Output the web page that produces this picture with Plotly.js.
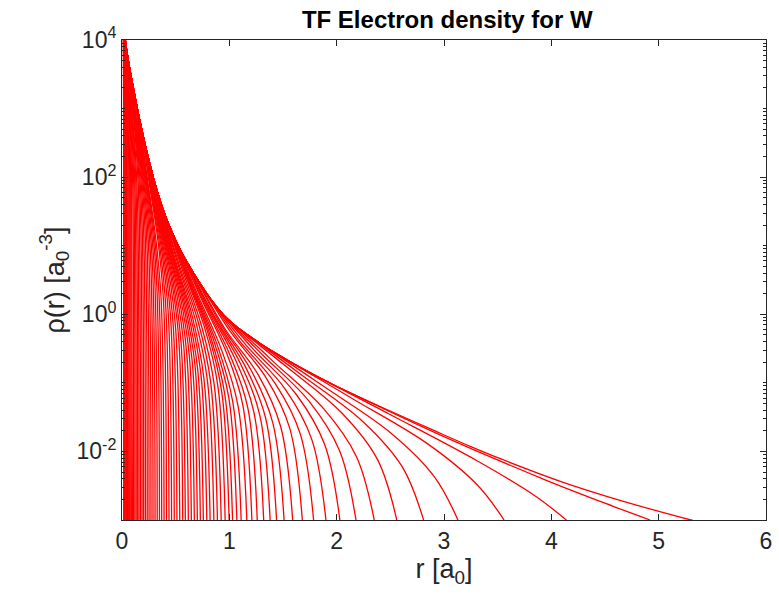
<!DOCTYPE html>
<html>
<head>
<meta charset="utf-8">
<script src="https://cdn.plot.ly/plotly-3.0.1.min.js"></script>
<style>html,body{margin:0;padding:0;background:#fff;}#chart{width:779px;height:600px;}</style>
</head>
<body>
<div id="chart"></div>
<script>
// Neutral-atom envelope: radius [a0] and log10 of density
const envR   = [0.004, 0.01, 0.02, 0.035, 0.06, 0.09, 0.121, 0.15, 0.18, 0.23, 0.29, 0.34, 0.40, 0.476, 0.53, 0.59, 0.66, 0.73, 0.84, 0.945, 1.05, 1.17, 1.287, 1.45, 1.66, 1.97, 2.2, 2.44, 2.9, 3.25, 3.53, 4.09, 4.6, 5.3, 6.1];
const envLog = [5.15, 4.6, 4.18, 3.94, 3.68, 3.42, 3.17, 2.94, 2.72, 2.37, 2.0, 1.73, 1.45, 1.16, 0.98, 0.80, 0.615, 0.44, 0.19, -0.01, -0.16, -0.30, -0.425, -0.585, -0.775, -1.03, -1.2, -1.37, -1.69, -1.93, -2.11, -2.44, -2.695, -3.0, -3.32];

// Ions q = 1..73: radius where each curve reaches the bottom of the plot (1e-3)
const ionEndR = [4.92,4.14,3.56,3.13,2.81,2.56,2.35,2.18,2.03,1.90,1.785,1.68,1.59,1.51,1.44,1.38,1.32,1.26,1.21,1.163,1.11,1.07,1.03,0.998,0.961,0.924,0.889,0.856,0.821,0.790,0.758,0.730,0.702,0.674,0.646,0.618,0.590,0.566,0.538,0.512,0.487,0.462,0.438,0.415,0.392,0.370,0.349,0.328,0.308,0.289,0.270,0.252,0.235,0.218,0.202,0.187,0.172,0.158,0.145,0.132,0.120,0.108,0.097,0.087,0.077,0.068,0.059,0.051,0.043,0.036,0.029,0.022,0.016];
// Radius up to which each ion curve stays on the envelope
const ionDepartR = [2.214,1.863,1.602,1.409,1.265,1.152,1.058,0.981,0.914,0.855,0.803,0.756,0.716,0.680,0.648,0.621,0.594,0.567,0.5445,0.523,0.4995,0.4815,0.4635,0.449,0.4325,0.416,0.400,0.385,0.369,0.3555,0.341,0.3285,0.316,0.303,0.291,0.278,0.2655,0.2547,0.2421,0.2304,0.2192,0.2079,0.1971,0.1868,0.1764,0.1665,0.157,0.1476,0.1386,0.130,0.1215,0.1134,0.1058,0.0981,0.0909,0.0842,0.0774,0.0711,0.0653,0.0594,0.054,0.0486,0.0437,0.0392,0.0347,0.0306,0.0266,0.023,0.0194,0.0162,0.013,0.0099,0.0072];
// Three points on the bend of each ion curve: radius and log10 density
const ionBendPR = [2.952,2.484,2.136,1.878,1.686,1.536,1.41,1.308,1.218,1.14,1.071,1.008,0.954,0.906,0.864,0.828,0.792,0.756,0.726,0.698,0.666,0.642,0.618,0.5988,0.5766,0.5544,0.5334,0.5136,0.4926,0.474,0.4548,0.438,0.4212,0.4044,0.3876,0.3708,0.354,0.3396,0.3228,0.3072,0.2922,0.2772,0.2628,0.249,0.2352,0.222,0.2094,0.1968,0.1848,0.1734,0.162,0.1512,0.141,0.1308,0.1212,0.1122,0.1032,0.0948,0.087,0.0792,0.072,0.0648,0.0582,0.0522,0.0462,0.0408,0.0354,0.0306,0.0258,0.0216,0.0174,0.0132,0.0096];
const ionBendPLog = [-1.75,-1.45,-1.22,-1.05,-0.90,-0.77,-0.69,-0.59,-0.50,-0.42,-0.34,-0.25,-0.20,-0.11,-0.04,0.04,0.12,0.20,0.27,0.31,0.39,0.45,0.52,0.57,0.63,0.68,0.72,0.77,0.82,0.88,0.95,1.02,1.08,1.14,1.22,1.30,1.38,1.44,1.53,1.62,1.70,1.79,1.88,1.96,1.99,2.08,2.16,2.25,2.34,2.42,2.50,2.58,2.66,2.74,2.82,2.89,2.96,2.98,3.05,3.11,3.18,3.24,3.30,3.36,3.42,3.48,3.54,3.61,3.69,3.75,3.89,4.07,4.24];
const ionBendAR = [3.936,3.312,2.848,2.504,2.248,2.048,1.88,1.744,1.624,1.52,1.428,1.344,1.272,1.208,1.152,1.104,1.056,1.008,0.968,0.930,0.888,0.856,0.824,0.7984,0.7688,0.7392,0.7112,0.6848,0.6568,0.632,0.6064,0.584,0.5616,0.5392,0.5168,0.4944,0.472,0.4528,0.4304,0.4096,0.3896,0.3696,0.3504,0.332,0.3136,0.296,0.2792,0.2624,0.2464,0.2312,0.216,0.2016,0.188,0.1744,0.1616,0.1496,0.1376,0.1264,0.116,0.1056,0.096,0.0864,0.0776,0.0696,0.0616,0.0544,0.0472,0.0408,0.0344,0.0288,0.0232,0.0176,0.0128];
const ionBendALog = [-2.41,-2.14,-1.89,-1.73,-1.57,-1.44,-1.38,-1.27,-1.17,-1.09,-1.01,-0.93,-0.89,-0.83,-0.77,-0.72,-0.66,-0.60,-0.54,-0.53,-0.45,-0.39,-0.32,-0.26,-0.19,-0.16,-0.12,-0.09,-0.04,0.02,0.09,0.15,0.22,0.29,0.36,0.43,0.51,0.58,0.67,0.75,0.83,0.93,1.01,1.11,1.12,1.22,1.32,1.42,1.52,1.61,1.72,1.82,1.91,2.01,2.11,2.19,2.29,2.31,2.39,2.47,2.55,2.63,2.71,2.78,2.85,2.92,2.99,3.06,3.13,3.22,3.31,3.46,3.66];
const ionBendBR = [4.576,3.850,3.311,2.911,2.613,2.381,2.1855,2.027,1.888,1.767,1.660,1.5624,1.4787,1.4043,1.339,1.2834,1.2276,1.1718,1.1253,1.0816,1.0323,0.9951,0.9579,0.9281,0.8937,0.8593,0.8268,0.7961,0.7635,0.7347,0.7049,0.6789,0.6529,0.6268,0.6008,0.5747,0.5487,0.5264,0.5003,0.4762,0.4529,0.4297,0.4073,0.386,0.3646,0.3441,0.3246,0.305,0.2864,0.2688,0.2511,0.2344,0.2186,0.2027,0.1879,0.1739,0.16,0.1469,0.1349,0.1228,0.1116,0.1004,0.0902,0.0809,0.0716,0.0632,0.0549,0.0474,0.04,0.0335,0.027,0.0205,0.0149];
const ionBendBLog = [-2.80,-2.65,-2.49,-2.37,-2.23,-2.12,-2.08,-1.99,-1.90,-1.82,-1.74,-1.66,-1.64,-1.58,-1.52,-1.47,-1.42,-1.36,-1.32,-1.34,-1.28,-1.22,-1.17,-1.12,-1.05,-1.03,-1.00,-0.97,-0.94,-0.87,-0.80,-0.73,-0.67,-0.60,-0.53,-0.45,-0.38,-0.31,-0.22,-0.14,-0.05,0.04,0.12,0.21,0.22,0.31,0.41,0.52,0.62,0.73,0.84,0.94,1.05,1.16,1.27,1.37,1.47,1.49,1.58,1.68,1.77,1.86,1.94,2.02,2.10,2.17,2.25,2.33,2.41,2.48,2.59,2.69,2.91];
const floorLog = -3;

const xTicks = [0,1,2,3,4,5,6];
const yTickVals = [1e-2, 1, 1e2, 1e4];
const yTickText = ['10<sup>-2</sup>', '10<sup>0</sup>', '10<sup>2</sup>', '10<sup>4</sup>'];
const yMinorVals = [];
for (let k = -3; k <= 3; k++) { for (let m = 1; m <= 9; m++) { if (!(m === 1 && k % 2 === 0)) yMinorVals.push(m * Math.pow(10, k)); } }

const lineStyle = {color: '#ff0000', width: 1.3, shape: 'spline', smoothing: 1};
const traces = [];
traces.push({x: envR, y: envLog.map(v => Math.pow(10, v)), mode: 'lines', line: lineStyle, hoverinfo: 'skip', showlegend: false});
for (let i = 0; i < ionEndR.length; i++) {
  const xs = [], ys = [];
  for (let j = 0; j < envR.length; j++) {
    if (envR[j] < ionDepartR[i]) { xs.push(envR[j]); ys.push(Math.pow(10, envLog[j])); }
  }
  xs.push(ionBendPR[i]); ys.push(Math.pow(10, ionBendPLog[i]));
  xs.push(ionBendAR[i]); ys.push(Math.pow(10, ionBendALog[i]));
  xs.push(ionBendBR[i]); ys.push(Math.pow(10, ionBendBLog[i]));
  xs.push(ionEndR[i]); ys.push(Math.pow(10, floorLog));
  traces.push({x: xs, y: ys, mode: 'lines', line: lineStyle, hoverinfo: 'skip', showlegend: false});
}

const axisCol = '#262626';
const fontFam = 'Liberation Sans, Arial, Helvetica, sans-serif';
const layout = {
  width: 779, height: 600,
  margin: {l: 122, r: 13, t: 40, b: 80},
  paper_bgcolor: '#ffffff', plot_bgcolor: '#ffffff',
  font: {family: fontFam, color: axisCol, size: 23},
  title: {text: '<b>TF Electron density for W</b>', x: 0.505, xref: 'paper', y: 0.968, yref: 'container', yanchor: 'middle', font: {size: 24, color: '#000000', family: fontFam}},
  xaxis: {
    range: [0, 6], tickmode: 'array', tickvals: xTicks, ticktext: xTicks.map(String),
    ticks: 'inside', ticklen: 6, tickcolor: axisCol, showline: true, linecolor: axisCol, linewidth: 1,
    mirror: 'ticks', showgrid: false, zeroline: false,
    tickfont: {size: 23, color: axisCol},
    title: {text: 'r [a<sub>0</sub>]', font: {size: 27, color: axisCol}, standoff: 6}
  },
  yaxis: {
    type: 'log', range: [-3, 4], tickmode: 'array', tickvals: yTickVals, ticktext: yTickText,
    ticks: 'inside', ticklen: 6, tickcolor: axisCol, showline: true, linecolor: axisCol, linewidth: 1,
    mirror: 'ticks', showgrid: false, zeroline: false,
    minor: {tickmode: 'array', tickvals: yMinorVals, ticks: 'inside', ticklen: 3, tickcolor: axisCol, showgrid: false},
    tickfont: {size: 23, color: axisCol},
    title: {text: 'ρ(r) [a<sub>0</sub><sup>-3</sup>]', font: {size: 27, color: axisCol}, standoff: 4}
  }
};
Plotly.newPlot('chart', traces, layout, {staticPlot: true, displayModeBar: false});
</script>
</body>
</html>
